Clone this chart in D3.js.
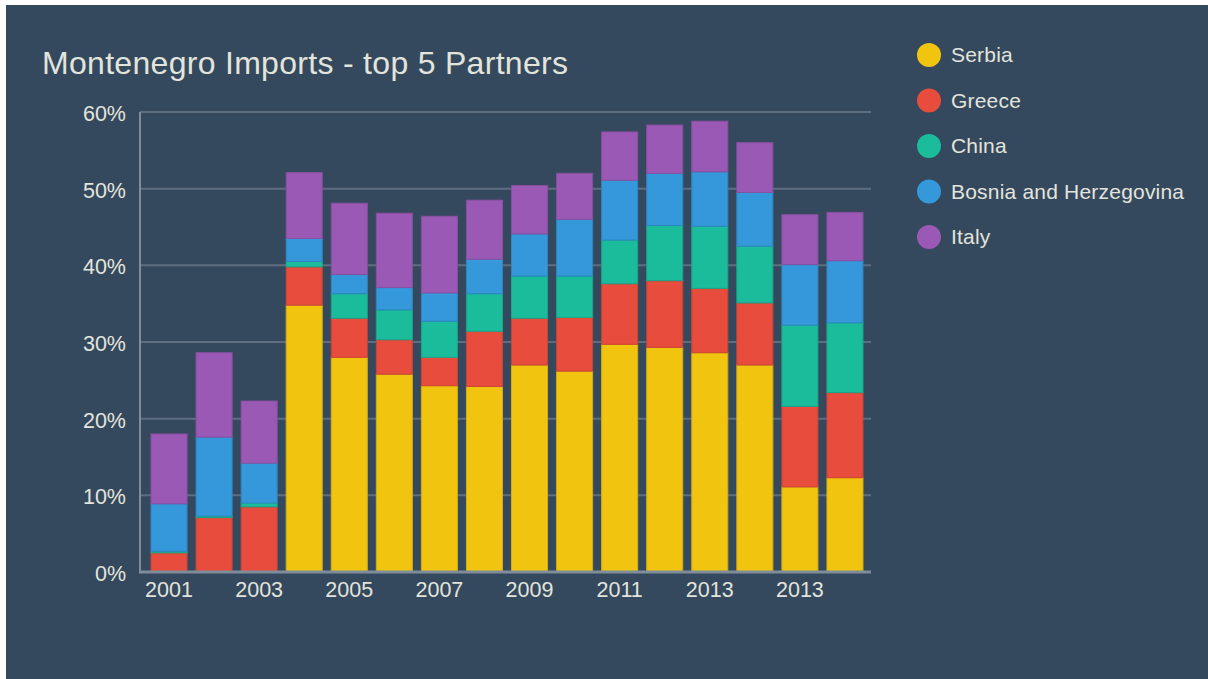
<!DOCTYPE html>
<html>
<head>
<meta charset="utf-8">
<script src="https://cdn.jsdelivr.net/npm/d3@7"></script>
<style>
  html, body { margin: 0; padding: 0; background: #ffffff; }
  svg { display: block; }
  text { font-family: "Liberation Sans", Arial, sans-serif; }
</style>
</head>
<body>
<svg id="chart" width="1208" height="679"></svg>
<script>
// Years along the x axis (only every other one is labelled)
const categories = ["2001","2002","2003","2004","2005","2006","2007","2008",
                    "2009","2010","2011","2012","2013","2014","2013","2014"];
const tickLabels = ["2001","2003","2005","2007","2009","2011","2013","2013"];

// Share of total imports (%) per partner
const serbia = [0, 0, 0, 34.8, 28.0, 25.8, 24.3, 24.2, 27.0, 26.2, 29.7, 29.3, 28.6, 27.0, 11.1, 12.3];
const greece = [2.5, 7.1, 8.5, 5.0, 5.1, 4.5, 3.7, 7.2, 6.1, 7.0, 7.9, 8.7, 8.4, 8.1, 10.5, 11.1];
const china  = [0.2, 0.2, 0.5, 0.7, 3.2, 3.9, 4.7, 4.9, 5.5, 5.4, 5.7, 7.2, 8.1, 7.4, 10.6, 9.1];
const bosnia = [6.2, 10.3, 5.2, 3.0, 2.5, 2.9, 3.7, 4.5, 5.5, 7.4, 7.8, 6.8, 7.1, 7.0, 7.9, 8.1];
const italy  = [9.1, 11.0, 8.1, 8.6, 9.3, 9.7, 10.0, 7.7, 6.3, 6.0, 6.3, 6.3, 6.6, 6.5, 6.5, 6.3];

const seriesNames = ["Serbia", "Greece", "China", "Bosnia and Herzegovina", "Italy"];
const seriesValues = [serbia, greece, china, bosnia, italy];
const seriesColors = ["#f1c40f", "#e74c3c", "#1abc9c", "#3498db", "#9b59b6"];
const yTicks = [0, 10, 20, 30, 40, 50, 60];

const svg = d3.select("#chart");
const textColor = "#e3e4dc";

// Panel background
svg.append("rect")
  .attr("x", 6).attr("y", 5)
  .attr("width", 1208 - 6).attr("height", 679 - 5)
  .attr("fill", "#34495e");

// Title
svg.append("text")
  .attr("x", 42).attr("y", 74)
  .attr("fill", textColor)
  .attr("font-size", 32)
  .attr("letter-spacing", 0.3)
  .text("Montenegro Imports - top 5 Partners");

const plot = { left: 140, right: 871, top: 112, bottom: 572 };

const x = d3.scaleBand()
  .domain(d3.range(categories.length))
  .range([146.5, 867.5])
  .paddingInner(0.2)
  .paddingOuter(0.1);

const y = d3.scaleLinear()
  .domain([0, 60])
  .range([plot.bottom, plot.top]);

// Horizontal gridlines
svg.append("g")
  .selectAll("line")
  .data(yTicks.filter(t => t > 0))
  .join("line")
  .attr("x1", plot.left).attr("x2", plot.right)
  .attr("y1", d => y(d)).attr("y2", d => y(d))
  .attr("stroke", "#5e6e7f")
  .attr("stroke-width", 2);

// Y tick labels
svg.append("g")
  .selectAll("text")
  .data(yTicks)
  .join("text")
  .attr("x", 126)
  .attr("y", d => y(d) + 9)
  .attr("text-anchor", "end")
  .attr("fill", textColor)
  .attr("font-size", 21.5)
  .text(d => d + "%");

// Stacked bars
const rows = categories.map((c, i) => {
  const r = { i };
  seriesNames.forEach((n, k) => { r[n] = seriesValues[k][i]; });
  return r;
});
const stacked = d3.stack().keys(seriesNames)(rows);

svg.append("g")
  .selectAll("g")
  .data(stacked)
  .join("g")
  .attr("fill", (d, k) => seriesColors[k])
  .attr("stroke", (d, k) => d3.color(seriesColors[k]).darker(0.35))
  .attr("stroke-width", 1)
  .selectAll("rect")
  .data(d => d.filter(s => s[1] - s[0] > 0))
  .join("rect")
  .attr("x", d => x(d.data.i))
  .attr("width", x.bandwidth())
  .attr("y", d => y(d[1]))
  .attr("height", d => y(d[0]) - y(d[1]));

// Axis lines
svg.append("line")
  .attr("x1", plot.left).attr("x2", plot.left)
  .attr("y1", plot.top).attr("y2", plot.bottom + 1)
  .attr("stroke", "#7f8c99").attr("stroke-width", 2);
svg.append("line")
  .attr("x1", plot.left - 1).attr("x2", plot.right)
  .attr("y1", plot.bottom).attr("y2", plot.bottom)
  .attr("stroke", "#7f8c99").attr("stroke-width", 3);

// X tick labels on every other bar
svg.append("g")
  .selectAll("text")
  .data(tickLabels)
  .join("text")
  .attr("x", (d, j) => x(j * 2) + x.bandwidth() / 2)
  .attr("y", 597)
  .attr("text-anchor", "middle")
  .attr("fill", textColor)
  .attr("font-size", 21.5)
  .text(d => d);

// Legend
const legend = svg.append("g")
  .selectAll("g")
  .data(seriesNames)
  .join("g")
  .attr("transform", (d, k) => `translate(929, ${55 + k * 45.5})`);
legend.append("circle")
  .attr("r", 12)
  .attr("fill", (d, k) => seriesColors[k]);
legend.append("text")
  .attr("x", 22)
  .attr("y", 7)
  .attr("fill", textColor)
  .attr("font-size", 21)
  .attr("letter-spacing", 0.2)
  .text(d => d);
</script>
</body>
</html>
